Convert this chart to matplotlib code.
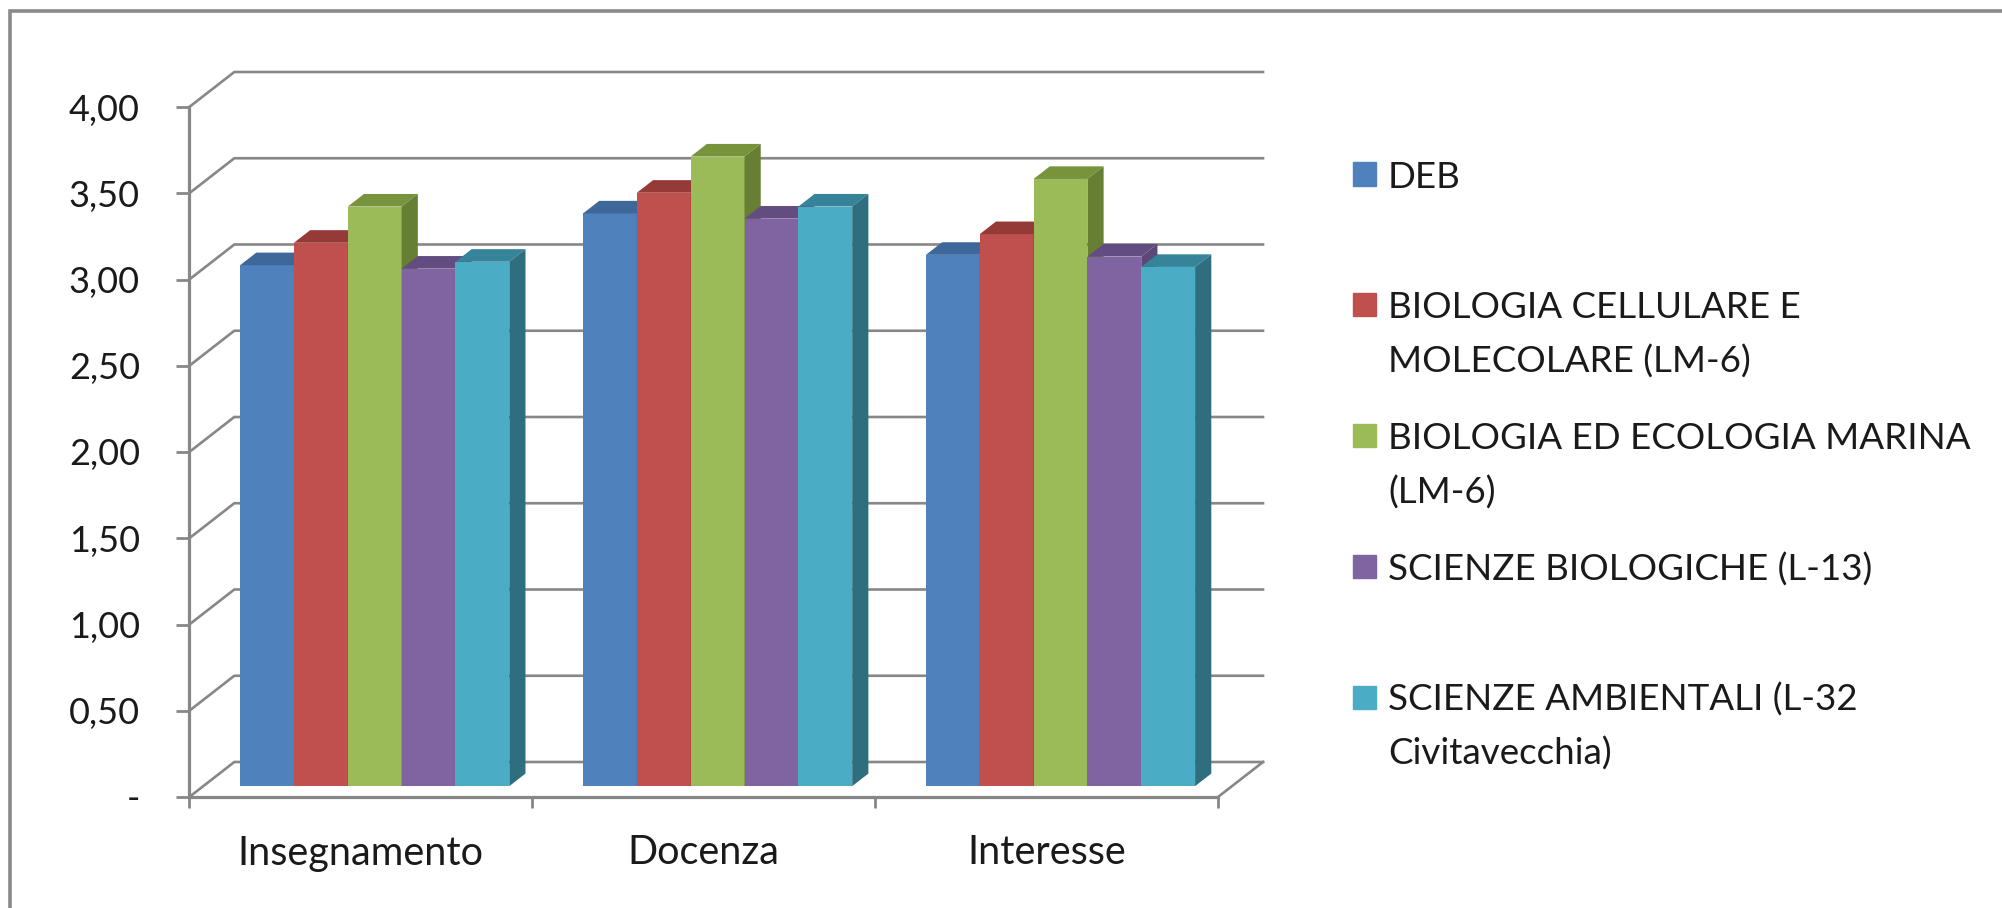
import numpy as np
import matplotlib.pyplot as plt

plt.rcParams['font.family'] = ['Lato', 'DejaVu Sans']

categories = ['Insegnamento', 'Docenza', 'Interesse']
series_names = ['DEB',
                'BIOLOGIA CELLULARE E\nMOLECOLARE (LM-6)',
                'BIOLOGIA ED ECOLOGIA MARINA\n(LM-6)',
                'SCIENZE BIOLOGICHE (L-13)',
                'SCIENZE AMBIENTALI (L-32\nCivitavecchia)']
deb = [3.02, 3.32, 3.08]
bio_cell = [3.15, 3.44, 3.20]
bio_marina = [3.36, 3.65, 3.52]
sci_bio = [3.00, 3.29, 3.07]
sci_amb = [3.04, 3.36, 3.01]
yticks = [0, 0.5, 1.0, 1.5, 2.0, 2.5, 3.0, 3.5, 4.0]
ytick_labels = ['-', '0,50', '1,00', '1,50', '2,00', '2,50', '3,00', '3,50', '4,00']

values = [deb, bio_cell, bio_marina, sci_bio, sci_amb]
# (front, top, side) shades, excel 2007 palette
shades = [('#4F81BD', '#3D6899', '#385D8A'),
          ('#C0504D', '#963A38', '#8C3836'),
          ('#9BBB59', '#77933C', '#667F33'),
          ('#8064A2', '#634C80', '#5C4776'),
          ('#4BACC6', '#36849A', '#2F6E7F')]
grid_col = '#878787'

W, H = 2002, 908
fig = plt.figure(figsize=(W / 100, H / 100), dpi=100)
# plot area: front-left corner of the floor is the data origin
x_left, x_right = 189.3, 1218.0
y_zero, y_top = 797.0, 107.0
ax = fig.add_axes([x_left / W, (H - y_zero) / H, (x_right - x_left) / W, (y_zero - y_top) / H])
ax.set_xlim(-0.5, 2.5)
ax.set_ylim(0, 4)

# oblique depth of the floor, in data units
ddx = 45 / ((x_right - x_left) / 3)
ddy = 35 / ((y_zero - y_top) / 4)
front_frac, depth_frac = 0.31, 0.36
bar_w = 0.157

# back wall gridlines + left wall diagonals
for v in yticks:
    ax.plot([-0.5, -0.5 + ddx, 2.5 + ddx], [v, v + ddy, v + ddy],
            color=grid_col, lw=1.9, clip_on=False, zorder=1, solid_joinstyle='miter')
ax.plot([2.5, 2.5 + ddx], [0, ddy], color=grid_col, lw=1.9, clip_on=False, zorder=1)

x = np.arange(len(categories))
off_x = front_frac * ddx
off_y = front_frac * ddy
bdx = depth_frac * ddx
bdy = depth_frac * ddy
for i, vals in enumerate(values):
    front, top, side = shades[i]
    x0 = x - 2.5 * bar_w + i * bar_w + off_x
    ax.bar(x0, vals, width=bar_w, bottom=off_y, align='edge', color=front,
           linewidth=0, zorder=3 + i, clip_on=False)
    for xx, v in zip(x0, vals):
        yb = off_y
        yt = off_y + v
        ax.fill([xx, xx + bar_w, xx + bar_w + bdx, xx + bdx],
                [yt, yt, yt + bdy, yt + bdy], color=top, lw=0, zorder=3 + i, clip_on=False)
        ax.fill([xx + bar_w, xx + bar_w + bdx, xx + bar_w + bdx, xx + bar_w],
                [yb, yb + bdy, yt + bdy, yt], color=side, lw=0, zorder=3 + i, clip_on=False)

for s in ['top', 'right']:
    ax.spines[s].set_visible(False)
for s in ['left', 'bottom']:
    ax.spines[s].set_color(grid_col)
    ax.spines[s].set_linewidth(2.3)
    ax.spines[s].set_zorder(2)
ax.patch.set_alpha(0)

ax.set_yticks(yticks)
ax.set_yticklabels(ytick_labels)
ax.tick_params(axis='y', length=9.5, width=2.0, color=grid_col, pad=26, labelsize=26,
               labelcolor='#1a1a1a')
ax.set_xticks([-0.5, 0.5, 1.5, 2.5])
ax.set_xticklabels([])
ax.set_xticks(x, minor=True)
ax.set_xticklabels(categories, minor=True)
ax.tick_params(axis='x', which='major', length=8, width=2.0, color=grid_col)
ax.tick_params(axis='x', which='minor', length=0, pad=27, labelsize=28.5, labelcolor='#1a1a1a')

# legend, excel style (evenly spaced slots, text hanging from the marker row)
leg_x, leg_y0, leg_step, line_step = 1353, 174, 130.75, 54
for i, name in enumerate(series_names):
    yc = leg_y0 + i * leg_step
    fig.patches.append(plt.Rectangle((leg_x / W, 1 - (yc + 11.5) / H), 23 / W, 23 / H,
                                     transform=fig.transFigure, color=shades[i][0]))
    for k, line in enumerate(name.split('\n')):
        fig.text((leg_x + 35) / W, 1 - (yc + k * line_step) / H, line, fontsize=26.5,
                 va='center_baseline', ha='left', color='#1a1a1a')

# chart frame
fig.patches.append(plt.Rectangle((10 / W, -0.1), 1.2, 1.1 - 11 / H, transform=fig.transFigure,
                                 fill=False, edgecolor='#8a8a8a', lw=2.6))

fig.savefig('out.png', dpi=100, facecolor='white')
